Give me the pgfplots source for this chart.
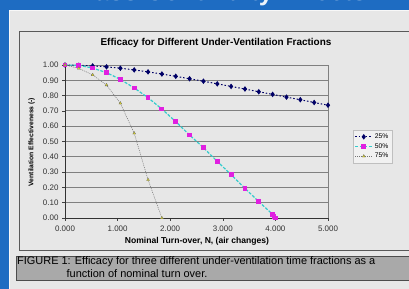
\documentclass[border=0pt]{standalone}
\usepackage{pgfplots}
\pgfplotsset{compat=1.18}
\usepackage{fontspec}
\setmainfont{Liberation Sans}
\definecolor{slideblue}{HTML}{1E6CC2}
\definecolor{panel}{HTML}{E7E7E7}
\definecolor{capgray}{HTML}{A9A9A9}
\definecolor{navy}{HTML}{000066}
\definecolor{turq}{HTML}{33CCCC}
\definecolor{mag}{HTML}{E020E0}
\definecolor{yel}{HTML}{E8E020}
\begin{document}
\begin{tikzpicture}[x=1bp,y=1bp]
\useasboundingbox (0,0) rectangle (409,289);
\clip (0,0) rectangle (409,289);
\fill[slideblue] (0,0) rectangle (409,289);
\fill[panel] (9,0) rectangle (409,279);
\draw[white!70!panel, line width=1bp] (9.5,0) -- (9.5,278.5) -- (409,278.5);
\node[white!92!slideblue, font=\bfseries\fontsize{26}{28}\selectfont, anchor=base] at (220,289) {Mass Continuity Effects};
% chart frame
\draw[black!65, line width=0.8bp] (19,39) rectangle (412,258);
% caption
\draw[black!70, fill=capgray, line width=0.6bp] (16,9) rectangle (412,33);
\node[anchor=west, font=\fontsize{11}{12}\selectfont, inner sep=0pt] at (17,27.3) {FIGURE 1: Efficacy for three different under-ventilation time fractions as a};
\node[anchor=west, font=\fontsize{11}{12}\selectfont, inner sep=0pt] at (66.5,15) {function of nominal turn over.};
% titles
\node[font=\bfseries\fontsize{10}{11}\selectfont] at (216,246) {Efficacy for Different Under-Ventilation Fractions};
\node[font=\bfseries\fontsize{8.6}{9}\selectfont] at (197,48) {Nominal Turn-over, N, (air changes)};
\node[font=\bfseries\fontsize{6.8}{7}\selectfont, rotate=90] at (31.5,147) {Ventilation Effectiveness (-)};
\begin{axis}[at={(65bp,71bp)}, anchor=south west, scale only axis,
  width=263bp, height=153bp,
  xmin=0, xmax=5, ymin=0, ymax=1,
  xtick={0,1,2,3,4,5},
  ytick={0,0.1,0.2,0.3,0.4,0.5,0.6,0.7,0.8,0.9,1.0},
  axis line style={draw=none},
  tick pos=left, tick align=outside,
  major tick length=3bp,
  every tick/.style={black!75, line width=0.6bp},
  ymajorgrids, major grid style={black!50, line width=0.9bp},
  /pgf/number format/assume math mode=true,
  ticklabel style={font=\fontsize{8}{9}\selectfont, text=black!80},
  xticklabel style={/pgf/number format/fixed, /pgf/number format/fixed zerofill, /pgf/number format/precision=3, yshift=-1bp},
  yticklabel style={/pgf/number format/fixed, /pgf/number format/fixed zerofill, /pgf/number format/precision=2},
  legend style={at={(1.095,0.575)}, anchor=north west, draw=black!25, fill=panel!60!white,
    font=\fontsize{6.8}{7}\selectfont, inner sep=1.5bp, row sep=-0.5bp},
  legend image post style={xscale=1.0},
  legend cell align=left,
  clip=false,
]
\draw[black!50, line width=0.9bp] (axis cs:5,0) -- (axis cs:5,1);
\draw[black!80, line width=0.8bp] (axis cs:0,1) -- (axis cs:0,0) -- (axis cs:5,0);
\addplot[navy, line width=1bp, dash pattern=on 1.5bp off 2bp, mark=diamond*, mark size=2bp, mark options={solid, fill=navy}] coordinates {
(0,1.000) (0.2632,0.998) (0.5263,0.994) (0.7895,0.988) (1.0526,0.979) (1.3158,0.968) (1.5789,0.955) (1.8421,0.941) (2.1053,0.926) (2.3684,0.910) (2.6316,0.894) (2.8947,0.877) (3.1579,0.860) (3.4211,0.843) (3.6842,0.825) (3.9474,0.808) (4.2105,0.790) (4.4737,0.773) (4.7368,0.755) (5.0,0.737)};
\addlegendentry{25\%}
\addplot[turq, line width=1.2bp, dash pattern=on 3bp off 1.5bp, mark=square*, mark size=1.8bp, mark options={solid, fill=mag, draw=mag}] coordinates {
(0,1.000) (0.2632,0.998) (0.5263,0.980) (0.7895,0.950) (1.0526,0.906) (1.3158,0.850) (1.5789,0.786) (1.8421,0.712) (2.1053,0.630) (2.3684,0.542) (2.6316,0.460) (2.8947,0.370) (3.1579,0.283) (3.4211,0.194) (3.6842,0.107) (3.9474,0.024) (3.975,0.010) (4.0,0.0)};
\addlegendentry{50\%}
\addplot[black!55, line width=0.5bp, dash pattern=on 1bp off 1bp, mark=triangle*, mark size=1.7bp, mark options={solid, fill=yel, draw=black!60, line width=0.3bp}] coordinates {
(0,1.000) (0.2632,0.978) (0.5263,0.935) (0.7895,0.869) (1.0526,0.750) (1.3158,0.554) (1.5789,0.250) (1.8421,0.000)};
\addlegendentry{75\%}
\end{axis}
\end{tikzpicture}
\end{document}
